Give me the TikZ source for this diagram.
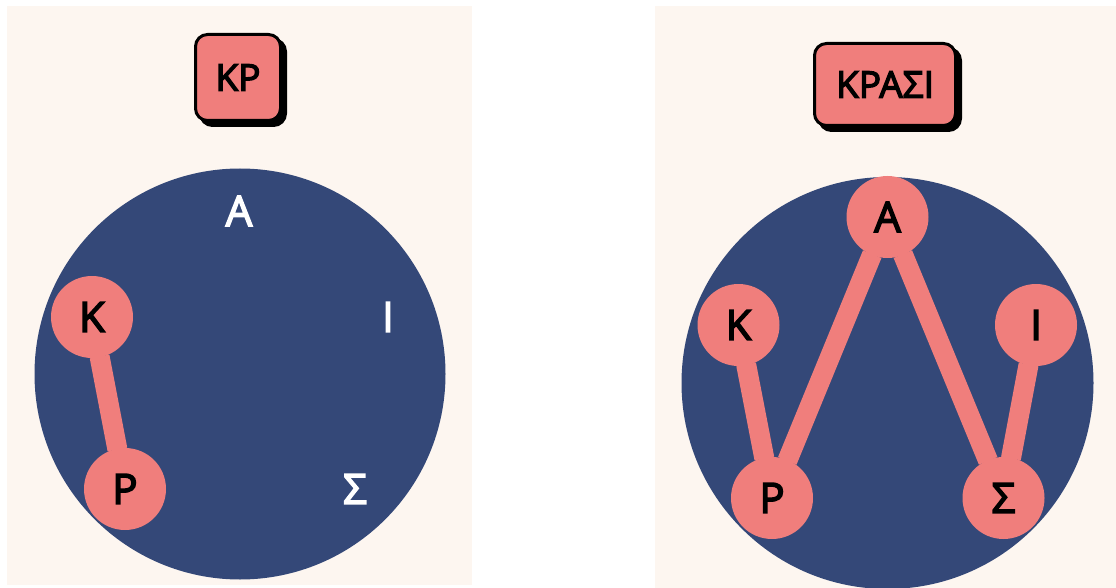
\documentclass[tikz,border=0pt]{standalone}
\usepackage{fontspec}
\newfontfamily\lettfont{Open Sans}[FakeBold=3.5]
\usetikzlibrary{shadows}
\definecolor{cream}{RGB}{253,246,240}
\definecolor{navy}{RGB}{52,72,120}
\definecolor{rose}{RGB}{240,126,124}

\begin{document}
\begin{tikzpicture}[x=1pt, y=-1pt,
  panel/.style={fill=cream},
  disc/.style={fill=navy},
  glyphs/.style={font=\lettfont\fontsize{#1}{#1}\selectfont},
  letter/.style={circle, fill=rose, minimum size=82pt, inner sep=0pt,
    glyphs=42, text=black},
  bare/.style={inner sep=0pt, glyphs=42, text=white},
  link/.style={draw=rose, line width=20pt, shorten <=-1pt, shorten >=-1pt},
  titlebox/.style={draw=black, line width=3pt, fill=rose, rounded corners=12pt,
    inner sep=0pt, glyphs=37,
    drop shadow={shadow xshift=5pt, shadow yshift=-5pt, fill=black,
      draw=black, line width=3pt, opacity=1}}]

\useasboundingbox (0,0) rectangle (1116,588);
\clip (0,0) rectangle (1116,588);

% two panels
\fill[panel] (7,6) rectangle (472,585);
\fill[panel] (655,6) rectangle (1116,588);

% word boxes
\node[titlebox, minimum width=85pt, minimum height=86pt] (wordL) at (238,77.5) {ΚΡ};
\node[titlebox, minimum width=141pt, minimum height=82pt] (wordR) at (885,84.5) {ΚΡΑΣΙ};

% discs
\fill[disc] (240,374) circle[radius=205.5pt];
\fill[disc] (887.5,383) circle[radius=206pt];

% left: only K and P are chosen
\node[bare]   (lA) at (239,211) {Α};
\node[bare]   (lI) at (388,317) {Ι};
\node[bare]   (lS) at (355,489) {Σ};
\node[letter] (lK) at (92,317)  {Κ};
\node[letter] (lP) at (125,489) {Ρ};
\draw[link] (lK) -- (lP);

% right: the full word
\node[letter] (rA) at (887.5,217) {Α};
\node[letter] (rK) at (738.5,325) {Κ};
\node[letter] (rI) at (1036,325)  {Ι};
\node[letter] (rP) at (772,498)   {Ρ};
\node[letter] (rS) at (1003.5,498) {Σ};
\draw[link] (rK) -- (rP);
\draw[link] (rP) -- (rA);
\draw[link] (rA) -- (rS);
\draw[link] (rS) -- (rI);
\end{tikzpicture}
\end{document}
